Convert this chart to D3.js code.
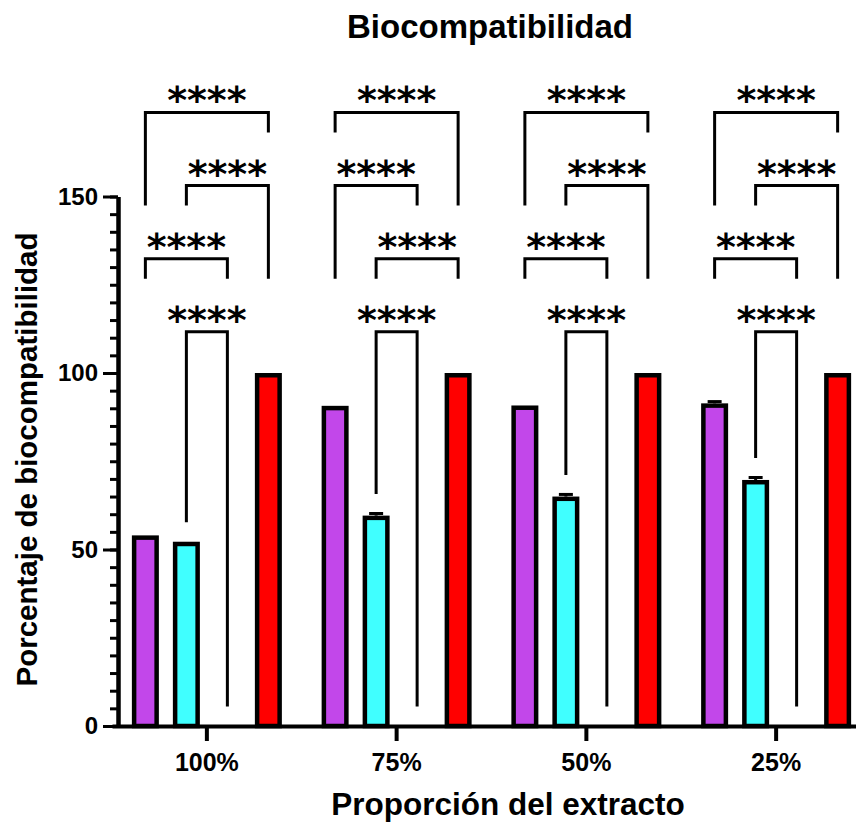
<!DOCTYPE html>
<html>
<head>
<meta charset="utf-8">
<script src="https://cdn.jsdelivr.net/npm/d3@7"></script>
<style>
  html, body { margin: 0; padding: 0; background: #fff; }
  text { font-family: "Liberation Sans", Arial, sans-serif; font-weight: bold; fill: #000; }
</style>
</head>
<body>
<script>
// ---------------- data ----------------
const groups = ["100%", "75%", "50%", "25%"];
const seriesNames = ["Serie 1", "Serie 2", "Serie 3", "Serie 4"];
const seriesColors = ["#C247EA", "#40FFFF", "#FFFFFF", "#FF0000"];

const serie1Values = [54.0, 90.7, 90.8, 91.4];
const serie1SD     = [0, 0, 0, 0.5];
const serie2Values = [52.2, 59.6, 65.0, 69.7];
const serie2SD     = [0, 0.6, 0.6, 0.7];
const serie3Values = [0, 0, 0, 0];
const serie3SD     = [0, 0, 0, 0];
const serie4Values = [100, 100, 100, 100];
const serie4SD     = [0, 0, 0, 0];

const yTicks = [0, 50, 100, 150];
const sigLabel = "****";

// comparisons per group: [series a, series b, stacking level]
const compA = [[0, 3, 3], [1, 3, 2], [0, 2, 1], [1, 2, 0]];
const compB = [[0, 3, 3], [0, 2, 2], [1, 3, 1], [1, 2, 0]];
const comparisons = [compA, compB, compA, compA];

const allValues = [serie1Values, serie2Values, serie3Values, serie4Values];
const allSD = [serie1SD, serie2SD, serie3SD, serie4SD];

// ---------------- layout ----------------
const W = 856, H = 822;
const svg = d3.select("body").append("svg").attr("width", W).attr("height", H);

const y = d3.scaleLinear().domain([0, 150]).range([726, 196.5]);
const x0 = d3.scaleBand().domain(groups).range([112, 871]);
const x1 = d3.scaleBand().domain(d3.range(seriesNames.length)).range([-82, 82])
  .paddingInner(14 / 41).paddingOuter(7 / 41);

const barStroke = 4.5;
const gCenter = g => x0(g) + x0.bandwidth() / 2;
const barCenter = (g, s) => gCenter(g) + x1(s) + x1.bandwidth() / 2;

// bars
groups.forEach((g, gi) => {
  seriesNames.forEach((s, si) => {
    const v = allValues[si][gi];
    if (v <= 0) return;
    svg.append("rect")
      .attr("x", gCenter(g) + x1(si) + barStroke / 2)
      .attr("width", x1.bandwidth() - barStroke)
      .attr("y", y(v) + barStroke / 2)
      .attr("height", y(0) - y(v) - barStroke / 2)
      .attr("fill", seriesColors[si])
      .attr("stroke", "#000")
      .attr("stroke-width", barStroke);
    const sd = allSD[si][gi];
    if (sd > 0) {
      const cx = barCenter(g, si);
      svg.append("line").attr("x1", cx).attr("x2", cx)
        .attr("y1", y(v)).attr("y2", y(v + sd))
        .attr("stroke", "#000").attr("stroke-width", 3);
      svg.append("line").attr("x1", cx - 7).attr("x2", cx + 7)
        .attr("y1", y(v + sd)).attr("y2", y(v + sd))
        .attr("stroke", "#000").attr("stroke-width", 3);
    }
  });
});

// significance brackets
const bracketBase = 111.7, bracketStep = 20.7, legGap = 20, barGap = 19.5;
const levelY = k => y(bracketBase + bracketStep * k);
groups.forEach((g, gi) => {
  const comps = comparisons[gi];
  const covered = (level, c) => comps.some(cp => cp[2] === level &&
    Math.min(cp[0], cp[1]) <= c && Math.max(cp[0], cp[1]) >= c);
  comps.forEach(cp => {
    const [a, b, level] = cp;
    const yl = levelY(level);
    const legBottom = c => {
      if (level === 0) {
        const top = allValues[c][gi] + allSD[c][gi];
        return y(top) - barGap;
      }
      if (level - 1 >= 1 && !covered(level - 1, c)) return levelY(level - 1) + legGap;
      return yl + legGap;
    };
    const xa = barCenter(g, a), xb = barCenter(g, b);
    svg.append("path")
      .attr("d", `M${xa},${legBottom(a)}V${yl}H${xb}V${legBottom(b)}`)
      .attr("fill", "none").attr("stroke", "#000").attr("stroke-width", 3)
      .attr("stroke-linejoin", "miter");
    svg.append("text")
      .attr("x", (xa + xb) / 2).attr("y", yl + 1)
      .attr("text-anchor", "middle")
      .attr("font-size", 38)
      .style("font-family", '"DejaVu Sans", sans-serif')
      .text(sigLabel);
  });
});

// y axis: minor + major
const yMinor = svg.append("g").attr("transform", "translate(118,0)")
  .call(d3.axisLeft(y).tickValues(d3.range(0, 151, 5)).tickSize(8).tickSizeOuter(0).tickFormat(""));
const yMajor = svg.append("g").attr("transform", "translate(118,0)")
  .call(d3.axisLeft(y).tickValues(yTicks).tickSize(15).tickPadding(5).tickSizeOuter(0));
[yMinor, yMajor].forEach(ax => {
  ax.select(".domain").attr("stroke-width", 4).attr("stroke", "#000");
  ax.selectAll(".tick line").attr("stroke-width", 3).attr("stroke", "#000");
});
yMajor.selectAll(".tick text").attr("font-size", 24)
  .style("font-family", '"Liberation Sans", Arial, sans-serif').style("font-weight", "bold");

// x axis
const xAx = svg.append("g").attr("transform", `translate(0,${y(0)})`)
  .call(d3.axisBottom(x0).tickSize(15).tickPadding(12).tickSizeOuter(0));
xAx.select(".domain").attr("stroke-width", 4).attr("stroke", "#000");
xAx.selectAll(".tick line").attr("stroke-width", 4).attr("stroke", "#000");
xAx.selectAll(".tick text").attr("font-size", 25)
  .style("font-family", '"Liberation Sans", Arial, sans-serif').style("font-weight", "bold");

// titles
svg.append("text").attr("x", 490).attr("y", 38).attr("text-anchor", "middle")
  .attr("font-size", 33).text("Biocompatibilidad");
svg.append("text").attr("x", 508).attr("y", 815).attr("text-anchor", "middle")
  .attr("font-size", 31.5).text("Proporción del extracto");
svg.append("text").attr("transform", "translate(37,459.5) rotate(-90)")
  .attr("text-anchor", "middle").attr("font-size", 29.5)
  .text("Porcentaje de biocompatibilidad");
</script>
</body>
</html>
